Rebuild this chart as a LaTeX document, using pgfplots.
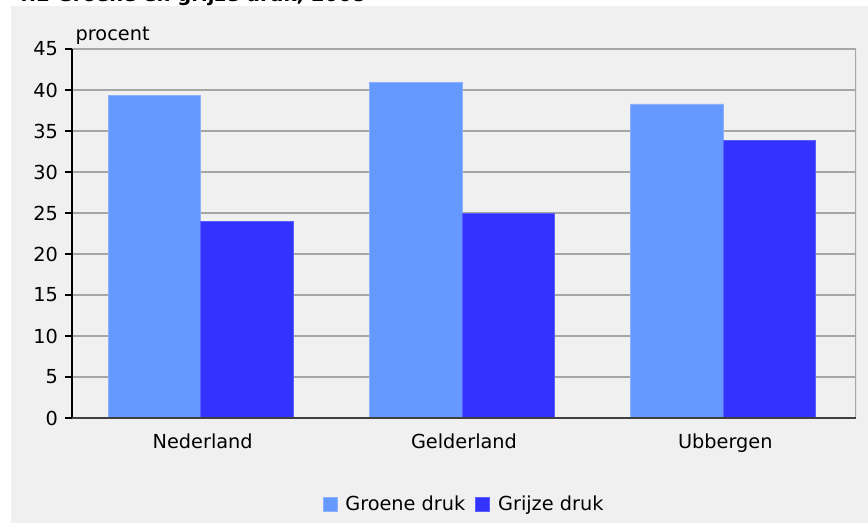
\documentclass[border=0pt]{standalone}
\usepackage{fontspec}
\setmainfont{DejaVu Sans}
\usepackage{pgfplots}
\usepackage{pgfplotstable}
\pgfplotsset{compat=1.18}

\definecolor{groen}{HTML}{6699FF}
\definecolor{grijs}{HTML}{3333FF}
\definecolor{paneel}{HTML}{F0F0F0}
\definecolor{raster}{HTML}{A6A6A6}

% percentages per gebied
\pgfplotstableread{
x groene grijze
0 39.3 24.0
1 40.9 24.9
2 38.3 33.9
}\druk

\begin{document}
\begin{tikzpicture}[x=1pt,y=1pt,font=\fontsize{19.3}{23}\selectfont]
\useasboundingbox (0,0) rectangle (868,523);
\fill[paneel] (11,0) rectangle (868,517);
\begin{scope}
  \clip (0,517) rectangle (868,523);
  \node[anchor=base west,inner sep=0pt,font=\fontsize{19.6}{24}\selectfont\bfseries] at (15,521) {4.2 Groene en grijze druk, 2008};
\end{scope}
\node[anchor=west,inner sep=0pt] at (75.5,487) {procent};
\begin{axis}[
    at={(72pt,105pt)}, anchor=south west,
    scale only axis, width=784pt, height=369pt,
    xmin=-0.5, xmax=2.5, ymin=0, ymax=45,
    ytick={0,5,...,45},
    xtick={0,1,2},
    xticklabels={Nederland,Gelderland,Ubbergen},
    /pgf/number format/assume math mode=true,
    axis x line*=bottom,
    x axis line style={draw=none},
    axis y line*=left,
    y axis line style={-, black, line width=1.2pt},
    ytick style={black, line width=1.2pt},
    tick align=outside,
    major tick length=7pt,
    major x tick style={draw=none},
    ymajorgrids,
    grid style={raster, line width=1.5pt},
    yticklabel style={anchor=east, xshift=-3.5pt},
    xticklabel style={anchor=north, yshift=-5pt},
    legend style={
        at={(0.5,-0.233)}, anchor=center,
        draw=none, fill=none,
        legend columns=2,
        /tikz/every odd column/.append style={column sep=6pt},
        /tikz/every even column/.append style={column sep=8pt},
    },
    legend image code/.code={\fill[#1] (0pt,-7pt) rectangle (14pt,7pt);},
]
\addplot[ybar, bar width=92.5pt, bar shift=-48.25pt,
    fill=groen, draw=groen!75!white, line width=0.8pt]
    table[x=x, y=groene] {\druk};
\addplot[ybar, bar width=92.5pt, bar shift=44.25pt,
    fill=grijs, draw=grijs!80!white, line width=0.8pt]
    table[x=x, y=grijze] {\druk};
\legend{Groene druk, Grijze druk}
\draw[raster, line width=2pt] (rel axis cs:1,0) -- (rel axis cs:1,1);
\draw[black!75, line width=2pt] (rel axis cs:0,0) -- (rel axis cs:1,0);
\end{axis}
\end{tikzpicture}
\end{document}
